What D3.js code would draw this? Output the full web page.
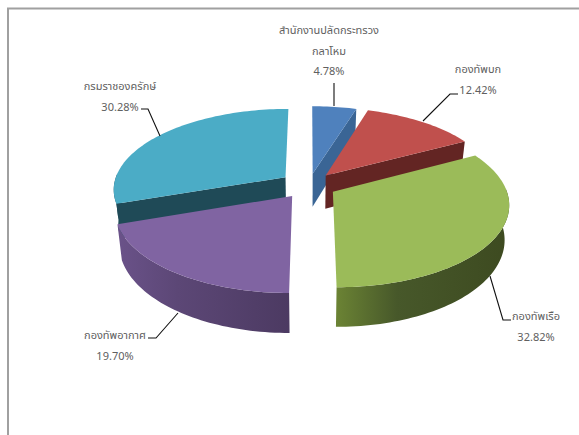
<!DOCTYPE html>
<html><head><meta charset="utf-8">
<script src="https://cdn.jsdelivr.net/npm/d3@7"></script>
<style>html,body{margin:0;padding:0;background:#fff}svg{display:block}
text{font-family:"Noto Sans Thai","Noto Sans","Liberation Sans",Tahoma,sans-serif;font-size:11px;fill:#606060;text-anchor:middle}</style>
</head><body><svg width="579" height="435"></svg>
<script>
const categories = ["สำนักงานปลัดกระทรวงกลาโหม","กองทัพบก","กองทัพเรือ","กองทัพอากาศ","กรมราชองครักษ์"];
const values = [4.78,12.42,32.82,19.70,30.28];
const topColors = ["#4f81bd","#c0504d","#9bbb59","#8064a2","#4bacc6"];
const seamColors = ["#3a6595","#632523","#4a5c28","#4f3d66","#1f4a57"];
const wallLeft = ["#3a6595","#632523","#6b8334","#6a5289","#1f4a57"];
const wallMid = ["#3a6595","#632523","#47582a","#5c4776","#1f4a57"];
const wallRight = ["#3a6595","#632523","#3d4a20","#4c3a62","#1f4a57"];
const labelLines = [["สำนักงานปลัดกระทรวง","กลาโหม","4.78%"],["กองทัพบก","12.42%"],["กองทัพเรือ","32.82%"],["กองทัพอากาศ","19.70%"],["กรมราชองครักษ์","30.28%"]];
const labelAnchors = [[329,34],[478,73],[536,320],[115,339],[120,90]];
const leaders = [[[334,83],[334,106]],[[423,121],[450,94],[458,94]],[[490,276],[503,320],[511,320]],[[178,313],[156,338],[148,338]],[[160,136],[148,109],[141,109]]];
const explodeBy = [0.145,0.155,0.16,0.165,0.17];
const drawOrder = [4,0,1,3,2];

const svg = d3.select("svg");
svg.append("path").attr("d","M8,435V8.5H579").attr("fill","none").attr("stroke","#a0a0a0").attr("stroke-width",2);

const Cx=309, Cy=185, Rx=172, Ry=80, K=0.141, H=33.6, bottomScale=0.977;
const arcs = d3.pie().sort(null).value(d=>d)(values);
function proj(gx,gz,depth){
  const p = 1/(1+K*gz);
  const b = depth ? bottomScale : 1;
  return [Cx + Rx*gx*p*b, Cy - Ry*gz*p + (depth ? H*p : 0)];
}
const line = d3.line();
const defs = svg.append("defs");
drawOrder.forEach(i=>{
  const a = arcs[i], mid=(a.startAngle+a.endAngle)/2;
  const ox=explodeBy[i]*Math.sin(mid), oz=explodeBy[i]*Math.cos(mid);
  const n = Math.max(8,Math.round((a.endAngle-a.startAngle)*40));
  const thetas = d3.range(n+1).map(j=>a.startAngle+(a.endAngle-a.startAngle)*j/n);
  const rim = thetas.map(t=>[ox+Math.sin(t),oz+Math.cos(t)]);
  const apexTop = proj(ox,oz,false), apexBot = proj(ox,oz,true);
  const rimTop = rim.map(q=>proj(q[0],q[1],false)), rimBot = rim.map(q=>proj(q[0],q[1],true));
  const g = svg.append("g");
  // radial cut faces, only those that face the viewer
  [0,n].forEach(e=>{
    const dx = rimTop[e][0]-apexTop[0];
    const visible = e===0 ? dx < -8 : dx > 8;
    if (visible) g.append("path").attr("d",line([apexTop,rimTop[e],rimBot[e],apexBot])+"Z").attr("fill",seamColors[i]);
  });
  // outer wall with shading, near side of the rim only
  const front = d3.range(n+1).filter(j=>Math.cos(thetas[j])<0.05);
  if (front.length>1) {
    const wTop = front.map(j=>rimTop[j]), wBot = front.map(j=>rimBot[j]);
    const xs = wTop.map(q=>q[0]);
    const gid="wall"+i;
    const lg = defs.append("linearGradient").attr("id",gid).attr("gradientUnits","userSpaceOnUse")
      .attr("x1",d3.min(xs)).attr("x2",d3.max(xs)).attr("y1",0).attr("y2",0);
    lg.append("stop").attr("offset",0).attr("stop-color",wallLeft[i]);
    lg.append("stop").attr("offset",0.35).attr("stop-color",wallMid[i]);
    lg.append("stop").attr("offset",1).attr("stop-color",wallRight[i]);
    g.append("path").attr("d",line(wTop.concat(wBot.slice().reverse()))+"Z").attr("fill",`url(#${gid})`);
  }
  // top face
  g.append("path").attr("d",line([apexTop].concat(rimTop))+"Z").attr("fill",topColors[i]);
});
leaders.forEach(pts=>{
  svg.append("path").attr("d",line(pts)).attr("fill","none").attr("stroke","#111").attr("stroke-width",1.1);
});
labelLines.forEach((ls,i)=>{
  ls.forEach((s,j)=>{
    svg.append("text").attr("x",labelAnchors[i][0]).attr("y",labelAnchors[i][1]+j*20.5).text(s);
  });
});
</script></body></html>
